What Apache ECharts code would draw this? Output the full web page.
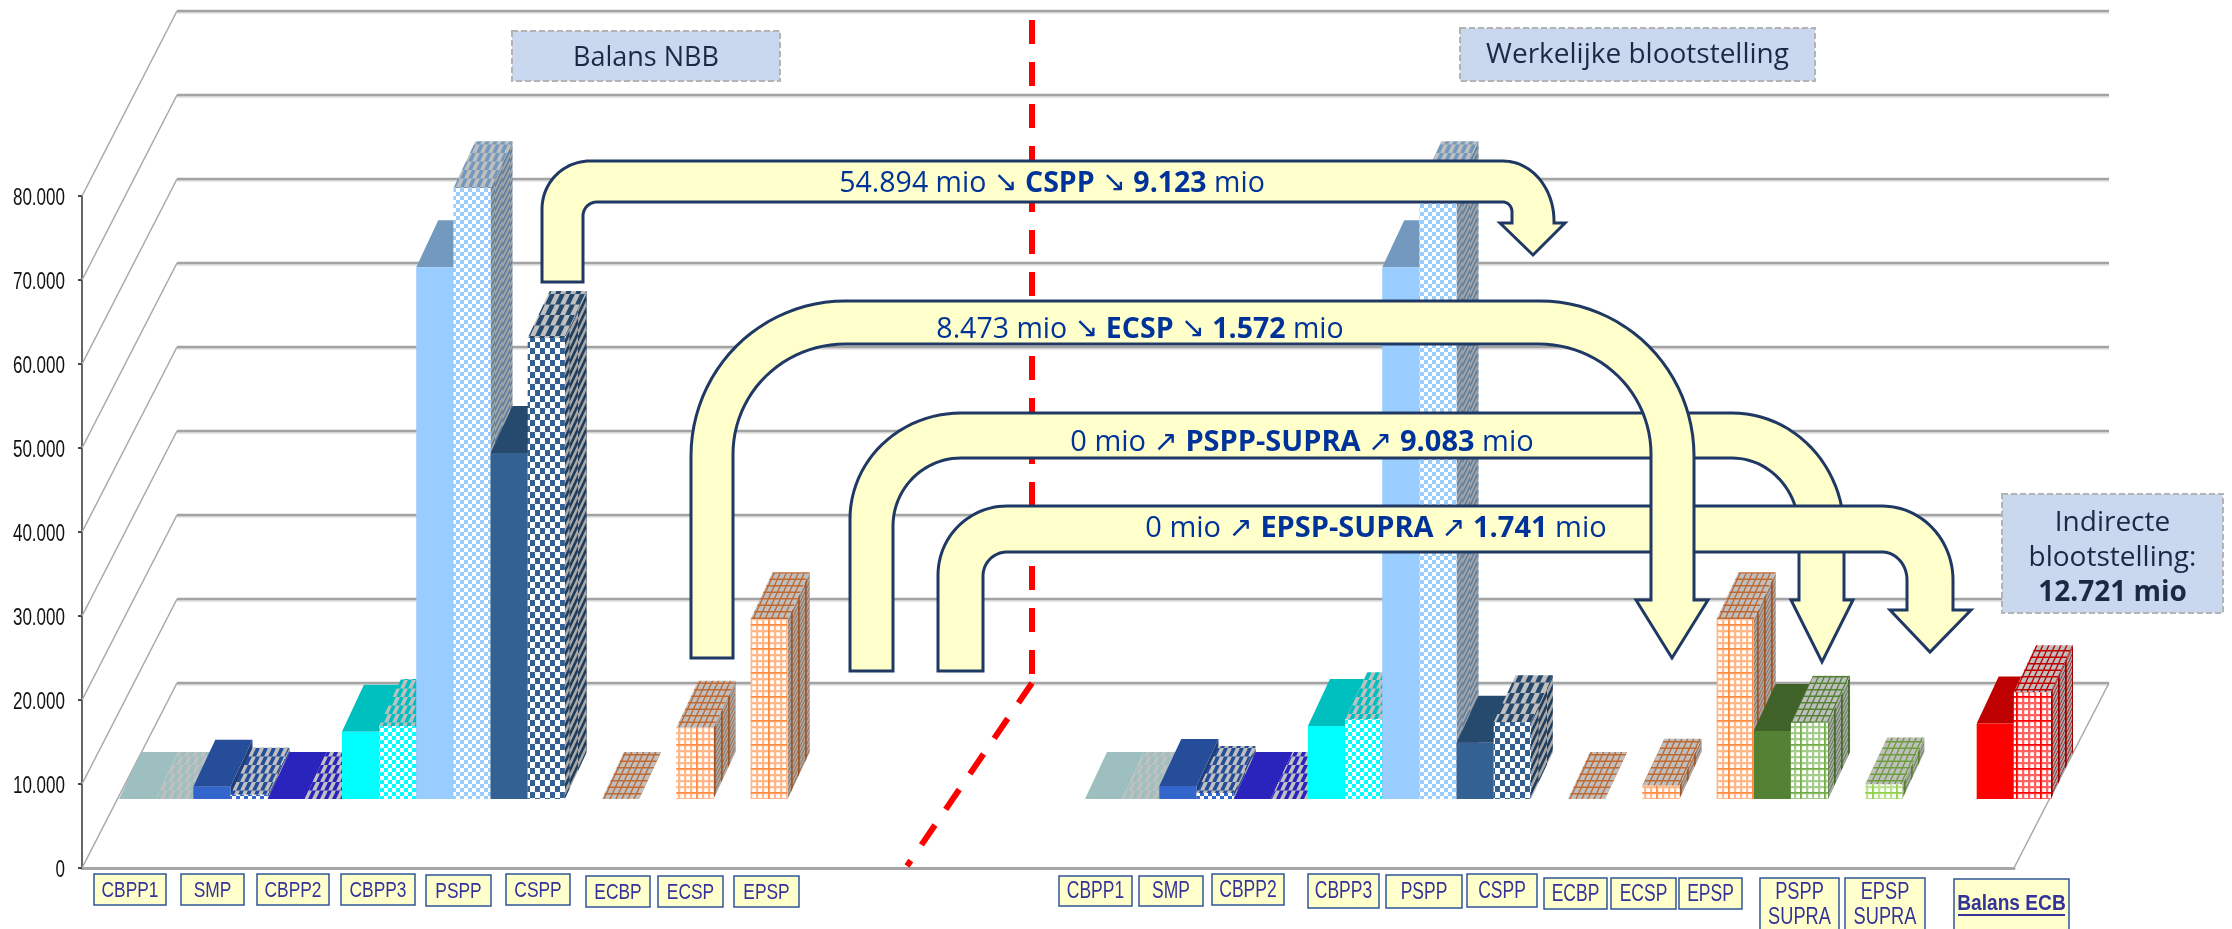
<!DOCTYPE html>
<html>
<head>
<meta charset="utf-8">
<style>html,body{margin:0;padding:0;background:#fff}#chart{width:2232px;height:929px}</style>
<script src="https://cdn.jsdelivr.net/npm/echarts@6/dist/echarts.min.js"></script>
</head>
<body>
<div id="chart"></div>
<script>
// ---------- DATA ----------
const categories = ['CBPP1','SMP','CBPP2','CBPP3','PSPP','CSPP','ECBP','ECSP','EPSP','','','','',
                    'CBPP1','SMP','CBPP2','CBPP3','PSPP','CSPP','ECBP','ECSP','EPSP','PSPP SUPRA','EPSP SUPRA','','Balans ECB'];
const solidValues = [0,1450,0,8000,63300,41200,null,null,null,null,null,null,null,
                     0,1550,0,8700,63300,6700,null,null,null,8100,null,null,9000];
const patternValues = [0,500,0,8700,72700,54894,0,8473,21400,null,null,null,null,
                       0,700,0,9500,72700,9123,0,1572,21400,9083,1741,null,12721];
const yTicks = [0,10000,20000,30000,40000,50000,60000,70000,80000];

const panelTitles = ['Balans NBB','Werkelijke blootstelling'];
const flowLabels = [
  ['54.894 mio','CSPP','9.123','↘'],
  ['8.473 mio','ECSP','1.572','↘'],
  ['0 mio','PSPP-SUPRA','9.083','↗'],
  ['0 mio','EPSP-SUPRA','1.741','↗']
];
const indirectLines = ['Indirecte','blootstelling:','12.721 mio'];

// ---------- STYLE / LAYOUT ----------
const DEPTH_BAR = [37,69], BAR_D = [22,47], DEPTH_WALL = [95,185];
const TEXT_FONT = '"Open Sans","Noto Sans",sans-serif';
const NARROW = '"Liberation Sans",sans-serif';
const solidColors = {CBPP1:'#d2ffff',SMP:'#3366cc',CBPP2:'#3830fc',CBPP3:'#00ffff',PSPP:'#99ccff',CSPP:'#336193',
  'PSPP SUPRA':'#548235','Balans ECB':'#ff0000'};
const patternColors = {CBPP1:'#d2ffff',SMP:'#3366cc',CBPP2:'#3830fc',CBPP3:'#00ffff',PSPP:'#99ccff',CSPP:'#336193',
  ECBP:'#ff8c42',ECSP:'#ff8c42',EPSP:'#ff8c42','PSPP SUPRA':'#70ad47','EPSP SUPRA':'#92d050','Balans ECB':'#ff0000'};
const patternKinds = {CSPP:'big',ECBP:'grid',ECSP:'grid',EPSP:'grid','PSPP SUPRA':'grid','EPSP SUPRA':'grid','Balans ECB':'grid'};

// label boxes, in order of the non-empty categories: [x0,x1,y0,y1,fontSize,scaleX]
const labelBoxes = [
  [94,166,874,905,22,.79],[181,244,874,905,22,.79],[257,329,874,905,22,.79],[341,415,874,905,22,.79],[426,491,875,906,22,.79],
  [506,570,874,905,22,.79],[586,650,876,907,22,.79],[658,723,876,907,22,.79],[734,799,876,907,22,.79],
  [1059,1132,876,906,23,.76],[1139,1203,876,906,23,.76],[1212,1284,874,905,23,.76],[1308,1379,874,908,23,.76],[1386,1462,875,908,23,.76],
  [1467,1537,874,907,23,.76],[1544,1607,878,909,23,.76],[1611,1676,878,909,23,.76],[1679,1742,878,909,23,.76],
  [1760,1839,878,940,24,.76],[1845,1925,878,940,24,.76],[1954,2069,879,940,22,.87]
];

// bent arrows: outer-left, inner-left, bottom, outer-top, inner-top, [outer-left r], [inner-left r],
// outer-right, inner-right, [outer-right r], [inner-right r], shoulder, head-left, head-right, [tip]
const arrows = {
  a1:[542,583,282,161,202,[48,48],[14,14],1554,1512,[51,60],[9,10],223,1500,1565,[1533,255]],
  a2:[691,733,658,301,344,[154,155],[112,110],1694,1651,[154,155],[112,110],600,1636,1708,[1672,658]],
  a3:[850,893,671,413,458,[111,106],[68,68],1844,1799,[112,118],[67,72],600,1791,1853,[1822,662]],
  a4:[938,983,671,506,552,[69,69],[24,24],1953,1907,[71,74],[25,28],610,1890,1971,[1930,652]]
};

// ---------- HELPERS ----------
function hex2rgb(h){return [parseInt(h.slice(1,3),16),parseInt(h.slice(3,5),16),parseInt(h.slice(5,7),16)];}
function shade(h,f){const c=hex2rgb(h).map(v=>Math.round(v*f));return 'rgb('+c.join(',')+')';}
function tile(w,h,fg,bg,cov){
  const cv=document.createElement('canvas');cv.width=w;cv.height=h;
  const ctx=cv.getContext('2d'),img=ctx.createImageData(w,h),F=hex2rgb(fg),B=hex2rgb(bg),S=4;
  for(let y=0;y<h;y++)for(let x=0;x<w;x++){
    let a=0;
    for(let j=0;j<S;j++)for(let i=0;i<S;i++)a+=cov(x+(i+.5)/S,y+(j+.5)/S);
    a/=S*S;
    const o=(y*w+x)*4;
    for(let k=0;k<3;k++)img.data[o+k]=Math.round(F[k]*a+B[k]*(1-a));
    img.data[o+3]=255;
  }
  ctx.putImageData(img,0,0);
  return {image:cv,repeat:'repeat'};
}
function mod(a,b){return ((a%b)+b)%b;}
const kinds = {
  check:{p:[8,8],rows:1,cov:(u,v)=>(Math.floor(u/4)+Math.floor(v/4))%2===0?1:0,sp:[8,8],scov:(u,v)=>(Math.floor(u/4)+Math.floor(v/4))%2===0?1:0},
  big:{p:[10,12],rows:1,cov:(u,v)=>(Math.floor(u/5)+Math.floor(v/6))%2===0?1:0,sp:[10,12],scov:(u,v)=>(Math.floor(u/5)+Math.floor(v/6))%2===0?1:0},
  grid:{p:[24,24],rows:2,
    cov:(u,v)=>{const maj=(mod(u,24)<1.6||mod(v,24)<1.6),min=(mod(u,6)<2.2||mod(v,6)<2.2);return maj?1:(min?.62:0);},
    sp:[6,6],scov:(u,v)=>(mod(u,6)<1.5||mod(v,6)<1.5)?1:0}
};
const cache={};
function rgbHex(h,f){return '#'+hex2rgb(h).map(v=>('0'+Math.round(v*f).toString(16)).slice(-2)).join('');}
function faces(color,kindName){
  const key=color+kindName;
  if(cache[key])return cache[key];
  const K=kinds[kindName],pw=K.sp[0],ph=K.sp[1];
  const front=tile(K.p[0],K.p[1],color,'#ffffff',K.cov);
  const slope=BAR_D[0]/BAR_D[1];
  const TH=Math.round(pw/slope);
  const shearTop=pw/TH;
  const top=tile(pw,TH,rgbHex(color,.75),'#bfbfbf',(x,y)=>K.scov(mod(x+y*shearTop,pw),mod(y*K.rows*ph/TH,ph)));
  const k=Math.max(1,Math.round(15/slope/ph));
  const SW=Math.round(k*ph*slope);
  const shearSide=k*ph/SW;
  const side=tile(SW,ph,rgbHex(color,.62),'#a8a8a8',(x,y)=>K.scov(mod(x*K.rows*pw/SW,pw),mod(y+x*shearSide,ph)));
  return cache[key]={front,top,side};
}
// elliptical quarter arc sampled into points, from angle a0 to a1 around (cx,cy)
function arc(cx,cy,rx,ry,a0,a1){
  const pts=[],n=24;
  for(let i=0;i<=n;i++){const t=a0+(a1-a0)*i/n;pts.push([cx+rx*Math.cos(t),cy+ry*Math.sin(t)]);}
  return pts;
}
function arrowPoints(a){
  const [xoL,xiL,bot,yo,yi,RoL,RiL,xoR,xiR,RoR,RiR,sh,hL,hR,tip]=a;
  const P=Math.PI;
  return [[xoL,bot]]
    .concat(arc(xoL+RoL[0],yo+RoL[1],RoL[0],RoL[1],P,1.5*P))
    .concat(arc(xoR-RoR[0],yo+RoR[1],RoR[0],RoR[1],1.5*P,2*P))
    .concat([[xoR,sh],[hR,sh],[tip[0],tip[1]],[hL,sh],[xiR,sh]])
    .concat(arc(xiR-RiR[0],yi+RiR[1],RiR[0],RiR[1],2*P,1.5*P))
    .concat(arc(xiL+RiL[0],yi+RiL[1],RiL[0],RiL[1],1.5*P,P))
    .concat([[xiL,bot]]);
}
function arrowEl(a){
  return {type:'polygon',silent:true,shape:{points:arrowPoints(a)},
    style:{fill:'#ffffcc',stroke:'#1f3864',lineWidth:3,lineJoin:'miter'}};
}
function flowText(row,cx,cy,fs){
  const [from,name,to,dir]=row;
  return {type:'text',silent:true,x:cx,y:cy,style:{
    text:'{a|'+from+' }{c|'+dir+'}{b| '+name+' }{c|'+dir+'}{b| '+to+'}{a| mio}',
    textAlign:'center',textVerticalAlign:'middle',align:'center',verticalAlign:'middle',
    fontFamily:TEXT_FONT,fontSize:fs,fill:'#003399',
    rich:{a:{fontFamily:TEXT_FONT,fontSize:fs,fill:'#003399',color:'#003399'},
          b:{fontFamily:TEXT_FONT,fontSize:fs,fontWeight:'bold',fill:'#003399',color:'#003399'},
          c:{fontFamily:'"DejaVu Sans"',fontSize:fs,fill:'#003399',color:'#003399'}}
  }};
}
function infoBox(x0,x1,y0,y1,lines){
  const out=[{type:'rect',silent:true,shape:{x:x0,y:y0,width:x1-x0,height:y1-y0},
    style:{fill:'#c9d8ef',stroke:'#b4b4b4',lineWidth:2,lineDash:[6,3]}}];
  lines.forEach(l=>out.push({type:'text',silent:true,x:(x0+x1)/2,y:l.y,style:{text:l.text,
    textAlign:'center',textVerticalAlign:'middle',align:'center',verticalAlign:'middle',
    fontFamily:TEXT_FONT,fontSize:l.size,fontWeight:l.bold?'bold':'normal',fill:'#1b2a44'}}));
  return out;
}

// ---------- SERIES TABLE ----------
const barRows=[];
categories.forEach((c,i)=>{
  if(solidValues[i]!==null)barRows.push([i,solidValues[i],0]);
  if(patternValues[i]!==null)barRows.push([i,patternValues[i],1]);
});

function renderBar(params,api){
  const c=api.value(0),v=api.value(1),kind=api.value(2);
  const name=categories[c];
  const size=api.size([1,0])[0],slot=size/2;
  const base=api.coord([c,0]),topP=api.coord([c,v]);
  const x0=base[0]-size/2+kind*slot+DEPTH_BAR[0],x1=x0+slot;
  const yb=base[1]-DEPTH_BAR[1],yt=topP[1]-DEPTH_BAR[1];
  const dx=BAR_D[0],dy=BAR_D[1];
  let fFront,fTop,fSide;
  if(kind===0){
    const col=solidColors[name];
    fFront=col;fTop=shade(col,.75);fSide=shade(col,.6);
  }else{
    const f=faces(patternColors[name],patternKinds[name]||'check');
    fFront=f.front;fTop=f.top;fSide=f.side;
  }
  const ch=[];
  if(yb-yt>0.5){
    ch.push({type:'polygon',silent:true,shape:{points:[[x1,yb],[x1,yt],[x1+dx,yt-dy],[x1+dx,yb-dy]]},style:{fill:fSide}});
  }
  ch.push({type:'polygon',silent:true,shape:{points:[[x0,yt],[x0+dx,yt-dy],[x1+dx,yt-dy],[x1,yt]]},style:{fill:fTop}});
  if(yb-yt>0.5){
    ch.push({type:'polygon',silent:true,shape:{points:[[x0,yb],[x0,yt],[x1,yt],[x1,yb]]},style:{fill:fFront}});
  }
  return {type:'group',children:ch};
}
function tickLabel(v){return String(v).replace(/\B(?=(\d{3})+$)/g,'.');}
function renderWall(params,api){
  const v=api.value(1),cs=params.coordSys;
  const y=api.coord([0,v])[1];
  const L=cs.x,R=cs.x+cs.width,bx=DEPTH_WALL[0],by=DEPTH_WALL[1];
  const ch=[
    {type:'polyline',silent:true,shape:{points:[[L,y],[L+bx,y-by]]},style:{stroke:'#a8a8a8',lineWidth:1.5,fill:null}},
    {type:'line',silent:true,shape:{x1:L+bx,y1:y-by+2,x2:R+bx,y2:y-by+2},style:{stroke:'#dedede',lineWidth:1.5}},
    {type:'line',silent:true,shape:{x1:L+bx,y1:y-by,x2:R+bx,y2:y-by},style:{stroke:'#a3a3a3',lineWidth:2.5}},
    {type:'text',silent:true,x:L-17,y:y+3,scaleX:.74,scaleY:1,style:{text:tickLabel(v),align:'right',verticalAlign:'middle',
      textAlign:'right',textVerticalAlign:'middle',fontFamily:NARROW,fontSize:23,fill:'#111111'}}
  ];
  if(v===0)ch.push({type:'polyline',silent:true,shape:{points:[[R,y],[R+bx,y-by]]},style:{stroke:'#a8a8a8',lineWidth:1.5,fill:null}});
  return {type:'group',children:ch};
}

// ---------- GRAPHIC ----------
const gfx=[];
gfx.push({type:'line',silent:true,shape:{x1:1032,y1:20,x2:1032,y2:683},
  style:{stroke:'#ff0000',lineWidth:6,lineDash:[24,18]}});
gfx.push({type:'line',silent:true,shape:{x1:1032,y1:683,x2:907,y2:866},
  style:{stroke:'#ff0000',lineWidth:6,lineDash:[24,19]}});
infoBox(512,780,31,81,[{text:panelTitles[0],y:58,size:27}]).forEach(e=>gfx.push(e));
infoBox(1460,1815,28,81,[{text:panelTitles[1],y:55,size:28}]).forEach(e=>gfx.push(e));
infoBox(2002,2223,494,613,[{text:indirectLines[0],y:523,size:28},{text:indirectLines[1],y:558,size:28},{text:indirectLines[2],y:593,size:28,bold:true}]).forEach(e=>gfx.push(e));
gfx.push(arrowEl(arrows.a1),flowText(flowLabels[0],1052,184,28.5));
gfx.push(arrowEl(arrows.a3),flowText(flowLabels[2],1302,443,29));
gfx.push(arrowEl(arrows.a4),flowText(flowLabels[3],1376,529,29));
gfx.push(arrowEl(arrows.a2),flowText(flowLabels[1],1140,330,28.5));
categories.filter(c=>c).forEach((c,i)=>{
  const [x0,x1,y0,y1,fs,sx]=labelBoxes[i];
  const isEcb=c==='Balans ECB',twoLine=c.indexOf(' SUPRA')>0;
  gfx.push({type:'rect',silent:true,shape:{x:x0,y:y0,width:x1-x0,height:y1-y0},
    style:{fill:'#ffffcc',stroke:'#2f5597',lineWidth:1.5}});
  gfx.push({type:'text',silent:true,x:(x0+x1)/2,y:twoLine?905:(isEcb?904:(y0+y1)/2+1),scaleX:sx,scaleY:1,style:{
    text:c.replace(' SUPRA','\nSUPRA'),textAlign:'center',textVerticalAlign:'middle',align:'center',verticalAlign:'middle',
    fontFamily:NARROW,fontSize:fs,fontWeight:isEcb?'bold':'normal',lineHeight:25,fill:'#333399'}});
  if(isEcb)gfx.push({type:'line',silent:true,shape:{x1:1958,y1:915,x2:2065,y2:915},style:{stroke:'#333399',lineWidth:2}});
});
gfx.forEach(e=>{e.z=100;});

// ---------- CHART ----------
const chart=echarts.init(document.getElementById('chart'),null,{renderer:'canvas'});
chart.setOption({
  animation:false,
  backgroundColor:'#ffffff',
  grid:{left:82,top:196,width:1932,height:672,containLabel:false},
  tooltip:{show:false},
  xAxis:{type:'category',data:categories,boundaryGap:true,
    axisLine:{show:true,lineStyle:{color:'#a6a6a6',width:3}},axisTick:{show:false},axisLabel:{show:false},splitLine:{show:false}},
  yAxis:{type:'value',min:0,max:80000,interval:10000,
    axisLine:{show:true,lineStyle:{color:'#666666',width:2}},
    axisTick:{show:true,length:4,lineStyle:{color:'#444444',width:2}},
    axisLabel:{show:false},
    splitLine:{show:false}},
  series:[
    {type:'custom',name:'wanden',renderItem:renderWall,data:yTicks.map(v=>[0,v]),encode:{x:0,y:1},silent:true,z:1,clip:false},
    {type:'custom',name:'balans',renderItem:renderBar,data:barRows,encode:{x:0,y:1},silent:true,z:2,clip:false}
  ],
  graphic:{elements:gfx}
});
</script>
</body>
</html>
